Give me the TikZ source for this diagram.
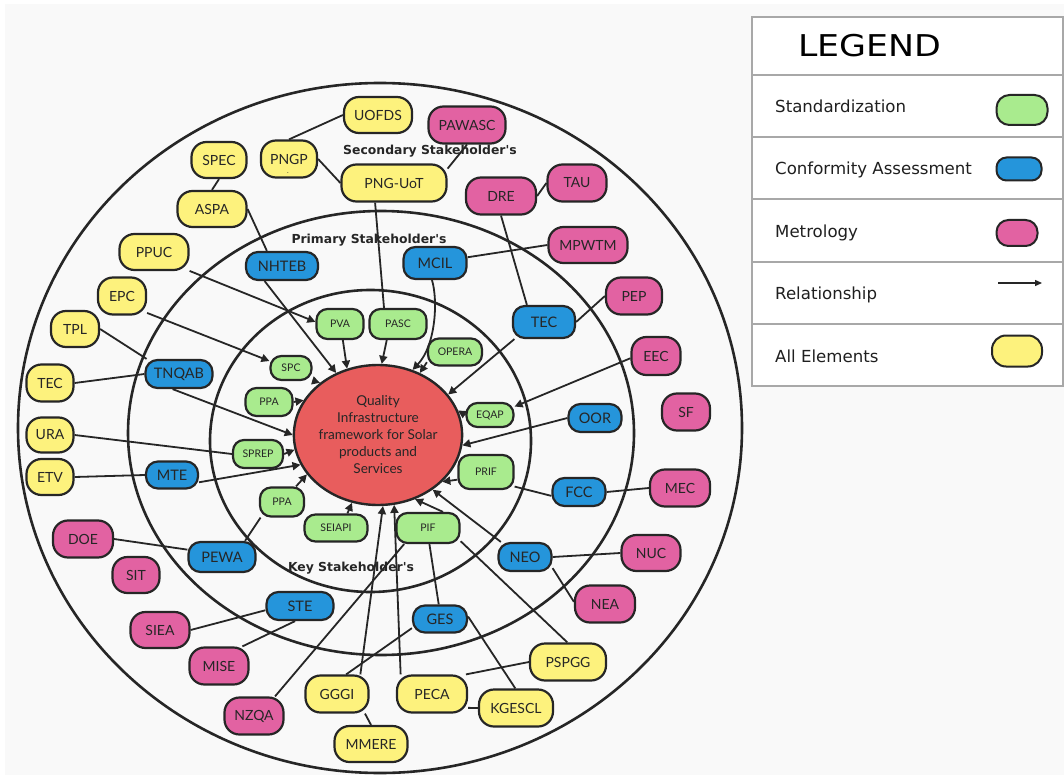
\documentclass[tikz,border=0pt]{standalone}
\usepackage{fontspec}
\usepackage{graphicx}
\setmainfont{Lato}
\newfontfamily\dvs{DejaVu Sans}
\usetikzlibrary{arrows.meta,shapes.geometric}
\definecolor{yel}{HTML}{FDF27D}
\definecolor{grn}{HTML}{A9EB8E}
\definecolor{blu}{HTML}{2595DB}
\definecolor{pnk}{HTML}{E262A2}
\definecolor{redc}{HTML}{E85D5D}
\definecolor{bd}{HTML}{262626}
\definecolor{bgc}{HTML}{F9F9F9}
\definecolor{lgline}{HTML}{A8A8A8}
\pgfdeclarelayer{back}
\pgfdeclarelayer{mid}
\pgfsetlayers{back,mid,main}
\begin{document}
\begin{tikzpicture}[x=1pt,y=-1pt,
  box/.style={draw=bd, line width=2.2pt, align=center, inner sep=0pt, text=bd},
  sz/.style 2 args={minimum width=#1pt, minimum height=#2pt},
  yl/.style={box, fill=yel, rounded corners=15pt, font=\fontsize{14}{16}\selectfont},
  pk/.style={box, fill=pnk, rounded corners=15pt, font=\fontsize{14}{16}\selectfont},
  bl/.style={box, fill=blu, rounded corners=12pt, font=\fontsize{14.5}{16}\selectfont},
  gr/.style={box, fill=grn, rounded corners=11pt, font=\fontsize{10.5}{12}\selectfont},
  ln/.style={draw=bd, line width=1.8pt},
  arr/.style={ln, -{Triangle[length=8pt,width=8pt]}},
  ring/.style={draw=bd, line width=2.6pt},
  lbl/.style={font=\dvs\bfseries\fontsize{12.4}{14}\selectfont, anchor=base, inner sep=0pt, text=bd},
  lgt/.style={font=\dvs\fontsize{16.6}{18}\selectfont, anchor=base west, inner sep=0pt, text=black!88},
  sw/.style={draw=bd, line width=2pt, inner sep=0pt},
]
\useasboundingbox (0,0) rectangle (1064,775);
\begin{pgfonlayer}{back}
\fill[white] (0,0) rectangle (1064,775);
\fill[bgc] (5,4) rectangle (1064,775);
\draw[ring] (380,428) ellipse [x radius=362, y radius=345];
\draw[ring] (381,433) ellipse [x radius=253, y radius=222];
\draw[ring] (370.5,441) ellipse [x radius=160.5, y radius=151];
\end{pgfonlayer}

% centre
\node[ellipse, draw=bd, fill=redc, line width=2.4pt, minimum width=150pt, minimum height=140pt, inner sep=0pt, align=center, text=bd, font=\fontsize{13.6}{17}\selectfont] (Q) at (378,435) {Quality\\Infrastructure\\framework for Solar\\products and\\Services};

% labels
\node[lbl] (Lsec) at (430,155) {Secondary Stakeholder's};
\node[lbl] (Lpri) at (369,244) {Primary Stakeholder's};
\node[lbl] (Lkey) at (351,571) {Key Stakeholder's};

% yellow
\node[yl,sz={68}{36}] (UOFDS) at (378,115) {UOFDS};
\node[yl,sz={56}{37}] (PNGP) at (289,159) {\rlap{\hspace{17pt}\raisebox{-9pt}[0pt][0pt]{\fontsize{7}{7}\selectfont .}}PNGP};
\node[yl,sz={55}{36}] (SPEC) at (219,160) {SPEC};
\node[yl,sz={69}{36}] (ASPA) at (212,209) {ASPA};
\node[yl,sz={105}{37}] (PNGUoT) at (394,183) {PNG-UoT};
\node[yl,sz={69}{36}] (PPUC) at (154,252) {PPUC};
\node[yl,sz={48}{37}] (EPC) at (122,296) {EPC};
\node[yl,sz={48}{36}] (TPL) at (75,329) {TPL};
\node[yl,sz={47}{37}] (TECl) at (50,383) {TEC};
\node[yl,sz={47}{35}] (URA) at (50,435) {URA};
\node[yl,sz={47}{36}] (ETV) at (50,477) {ETV};
\node[yl,sz={63}{37}] (GGGI) at (337,694) {GGGI};
\node[yl,sz={73}{36}] (MMERE) at (371,744) {MMERE};
\node[yl,sz={70}{37}] (PECA) at (432,694) {PECA};
\node[yl,sz={74}{37}] (KGESCL) at (516,708) {KGESCL};
\node[yl,sz={76}{37}] (PSPGG) at (568,662) {PSPGG};

% pink
\node[pk,sz={77}{37}] (PAWASC) at (467,125) {PAWASC};
\node[pk,sz={70}{37}] (DRE) at (501,196) {DRE};
\node[pk,sz={59}{37}] (TAU) at (577,183) {TAU};
\node[pk,sz={79}{36}] (MPWTM) at (588,245) {MPWTM};
\node[pk,sz={56}{37}] (PEP) at (634,296) {PEP};
\node[pk,sz={49}{38}] (EEC) at (656,356) {EEC};
\node[pk,sz={48}{37}] (SF) at (686,412) {SF};
\node[pk,sz={60}{37}] (MEC) at (680,488) {MEC};
\node[pk,sz={59}{36}] (NUC) at (651,553) {NUC};
\node[pk,sz={60}{37}] (NEA) at (605,604) {NEA};
\node[pk,sz={60}{37}] (DOE) at (83,539) {DOE};
\node[pk,sz={47}{36}] (SIT) at (136,575) {SIT};
\node[pk,sz={59}{36}] (SIEA) at (160,630) {SIEA};
\node[pk,sz={59}{37}] (MISE) at (219,666) {MISE};
\node[pk,sz={59}{37}] (NZQA) at (254,716) {NZQA};

% blue
\node[bl,sz={72}{28}] (NHTEB) at (282,266) {NHTEB};
\node[bl,sz={63}{32}] (MCIL) at (435,263) {MCIL};
\node[bl,sz={62}{32}] (TEC) at (544,322) {TEC};
\node[bl,sz={67}{28}] (TNQAB) at (179,374) {TNQAB};
\node[bl,sz={52}{27}] (MTE) at (172,475) {MTE};
\node[bl,sz={67}{30}] (PEWA) at (222,557) {PEWA};
\node[bl,sz={67}{28}] (STE) at (300,606) {STE};
\node[bl,sz={54}{27}] (GES) at (440,619) {GES};
\node[bl,sz={53}{28}] (NEO) at (525,557) {NEO};
\node[bl,sz={53}{28}] (FCC) at (579,492) {FCC};
\node[bl,sz={53}{28}] (OOR) at (595,418) {OOR};

% green
\node[gr,sz={47}{30}] (PVA) at (340,324) {PVA};
\node[gr,sz={57}{30}] (PASC) at (398,324) {PASC};
\node[gr,sz={54}{27}] (OPERA) at (455,352) {OPERA};
\node[gr,sz={41}{24}] (SPC) at (291,368) {SPC};
\node[gr,sz={47}{28}] (PPAt) at (269,402) {PPA};
\node[gr,sz={47}{24}] (EQAP) at (490,415) {EQAP};
\node[gr,sz={50}{28}] (SPREP) at (258,454) {SPREP};
\node[gr,sz={55}{34}] (PRIF) at (486,472) {PRIF};
\node[gr,sz={44}{29}] (PPAb) at (282,502) {PPA};
\node[gr,sz={63}{27}] (SEIAPI) at (336,528) {SEIAPI};
\node[gr,sz={63}{30}] (PIF) at (428,528) {PIF};

\begin{pgfonlayer}{mid}
% arrows into the centre
\draw[arr] (PVA.-80) -- (Q.115);
\draw[arr] (PASC.-125) -- (Q.87);
\draw[arr] (MCIL.-100) .. controls (438,300) and (436,345) .. (Q.62);
\draw[arr] (OPERA.-160) -- (Q.56);
\draw[arr] (TEC.-150) -- (Q.30);
\draw[arr] (EQAP.west) -- (Q.17);
\draw[arr] (OOR.west) -- (Q.-7);
\draw[arr] (PRIF.-165) -- (Q.-36);
\draw[arr] (NEO.148) -- (Q.-45);
\draw[arr] (PIF.47) -- (Q.-60);
\draw[arr] (PECA.148) -- (Q.-77);
\draw[arr] (GGGI.40) -- (Q.-86);
\draw[arr] (SEIAPI.52) -- (Q.-111);
\draw[arr] (PPAb.48) -- (Q.-151);
\draw[arr] (MTE.-15) -- (Q.-159);
\draw[arr] (SPREP.east) -- (Q.-170);
\draw[arr] (TNQAB.-113) -- (Q.180);
\draw[arr] (PPAt.east) -- (Q.155);
\draw[arr] (SPC.-30) -- (Q.138);
\draw[arr] (NHTEB.-139) -- (Q.124);
\draw[arr] (PPUC.-28) -- (PVA.175);
\draw[arr] (EPC.-34) -- (SPC.162);
\draw[arr] (EEC.-175) -- (EQAP.19);
% plain links
\draw[ln] (FCC.-172) -- (PRIF.-27);
\draw[ln] (NEO.east) -- (NUC.west);
\draw[ln] (NEO.-22) -- (NEA.176);
\draw[ln] (FCC.east) -- (MEC.west);
\draw[ln] (PIF.-22) -- (PSPGG.92);
\draw[ln] (NZQA.43) -- (PIF.-146);
\draw[ln] (GES.95) -- (PIF.-85);
\draw[ln] (GES.5) -- (KGESCL.92);
\draw[ln] (GES.-162) -- (GGGI.65);
\draw[ln] (GGGI.-35) -- (MMERE.north);
\draw[ln] (PECA.-21) -- (KGESCL.west);
\draw[ln] (PECA.30) -- (PSPGG.west);
\draw[ln] (PEWA.35) -- (PPAb.-144);
\draw[ln] (DOE.east) -- (PEWA.168);
\draw[ln] (ETV.east) -- (MTE.west);
\draw[ln] (URA.east) -- (SPREP.west);
\draw[ln] (TECl.east) -- (TNQAB.west);
\draw[ln] (TPL.east) -- (TNQAB.155);
\draw[ln] (ASPA.east) -- (NHTEB.135);
\draw[ln] (SPEC.south) -- (ASPA.north);
\draw[ln] (PNGP.north) -- (UOFDS.west);
\draw[ln] (PNGP.east) -- (PNGUoT.west);
\draw[ln] (PNGUoT.-134) -- (PASC.131);
\draw[ln] (PNGUoT.15) -- (PAWASC.south);
\draw[ln] (DRE.east) -- (TAU.west);
\draw[ln] (DRE.south) -- (TEC.135);
\draw[ln] (MCIL.10) -- (MPWTM.west);
\draw[ln] (TEC.east) -- (PEP.west);
\draw[ln] (STE.-173) -- (SIEA.east);
\draw[ln] (STE.-108) -- (MISE.40);
\end{pgfonlayer}

% legend
\draw[draw=lgline, fill=white, line width=1.3pt] (752,17) rectangle (1063,386);
\foreach \yy in {75,137,199,262,324} \draw[draw=lgline, line width=1.3pt] (752,\yy) -- (1063,\yy);
\node[anchor=base west, inner sep=0pt, font=\dvs\fontsize{30}{32}\selectfont, text=black] (LG) at (798,57) {\scalebox{1.16}[1]{LEGEND}};
\node[lgt] (Ls) at (775,113) {Standardization};
\node[lgt] (Lc) at (775,175) {Conformity Assessment};
\node[lgt] (Lm) at (775,238) {Metrology};
\node[lgt] (Lr) at (775,299) {Relationship};
\node[lgt] (La) at (775,362) {All Elements};
\node[sw, fill=grn, rounded corners=13pt, sz={51}{30}] (lgS) at (1022,110) {};
\node[sw, fill=blu, rounded corners=10pt, sz={45}{23}] (lgC) at (1019,169) {};
\node[sw, fill=pnk, rounded corners=12pt, sz={41}{26}] (lgM) at (1017,233) {};
\node[sw, fill=yel, rounded corners=14pt, sz={50}{31}] (lgY) at (1017,351) {};
\coordinate (lra) at (998,283);
\coordinate (lrb) at (1042,283);
\draw[draw=bd, line width=1.3pt, -{Triangle[length=7pt,width=6pt]}] (lra) -- (lrb);
\end{tikzpicture}
\end{document}
